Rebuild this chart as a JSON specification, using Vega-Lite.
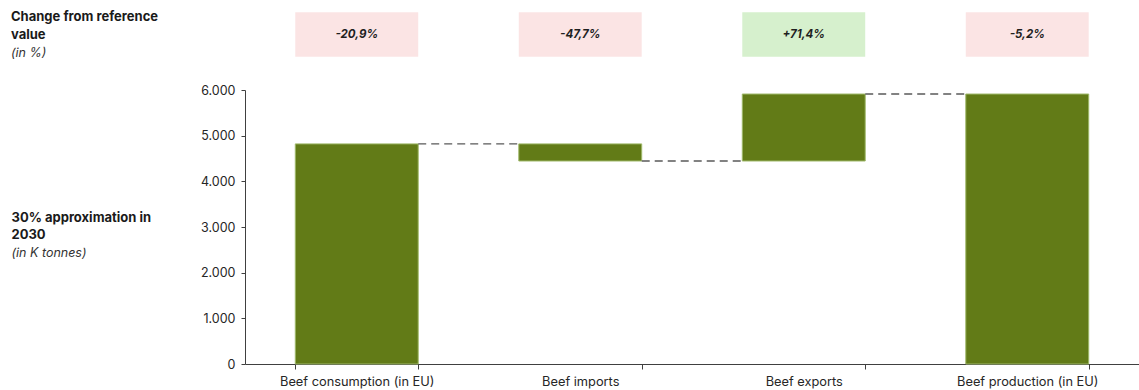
{
  "$schema": "https://vega.github.io/schema/vega-lite/v6.json",
  "autosize": {"type": "none"},
  "width": 894,
  "height": 274,
  "padding": {"left": 245, "top": 90, "right": 0, "bottom": 26},
  "background": "white",
  "config": {
    "font": "Inter",
    "view": {"stroke": null},
    "axis": {"grid": false, "labelColor": "#262626", "domainColor": "#404040", "tickColor": "#404040", "labelFontSize": 12, "labelFont": "Inter"}
  },
  "title": {
    "text": ["Change from reference", "value"],
    "subtitle": "(in %)",
    "anchor": "start",
    "frame": "group",
    "dx": -234,
    "dy": 51,
    "fontSize": 13,
    "fontWeight": "bold",
    "color": "#1a1a1a",
    "lineHeight": 18,
    "subtitleFontSize": 12.5,
    "subtitleFontStyle": "italic",
    "subtitleColor": "#333333",
    "subtitlePadding": 5
  },
  "datasets": {
    "steps": [
      {"item": "Beef consumption (in EU)", "start": 0, "end": 4820},
      {"item": "Beef imports", "start": 4445, "end": 4820},
      {"item": "Beef exports", "start": 4445, "end": 5912},
      {"item": "Beef production (in EU)", "start": 0, "end": 5912}
    ],
    "links": [
      {"from": "Beef consumption (in EU)", "to": "Beef imports", "level": 4820},
      {"from": "Beef imports", "to": "Beef exports", "level": 4445},
      {"from": "Beef exports", "to": "Beef production (in EU)", "level": 5912}
    ],
    "changes": [
      {"item": "Beef consumption (in EU)", "change": "-20,9%", "direction": "down"},
      {"item": "Beef imports", "change": "-47,7%", "direction": "down"},
      {"item": "Beef exports", "change": "+71,4%", "direction": "up"},
      {"item": "Beef production (in EU)", "change": "-5,2%", "direction": "down"}
    ]
  },
  "layer": [
    {
      "data": {"name": "steps"},
      "mark": {"type": "bar", "color": "#627b17", "stroke": "#9fb96a", "strokeWidth": 1},
      "encoding": {
        "x": {
          "field": "item", "type": "nominal", "sort": null,
          "scale": {"paddingInner": 0.45, "paddingOuter": 0.225},
          "axis": {
            "title": "(in K tonnes)",
            "titleFontStyle": "italic", "titleFontWeight": "normal", "titleFontSize": 12.5, "titleColor": "#333333",
            "titleAngle": 0, "titleAlign": "left", "titleBaseline": "middle",
            "titleX": -234, "titleY": -112,
            "labelAngle": 0, "labelPadding": 6, "labelFontSize": 12.8, "tickBand": "extent", "tickSize": 5, "labelColor": "#262626"
          }
        },
        "y": {
          "field": "start", "type": "quantitative",
          "scale": {"domain": [0, 6000], "nice": false},
          "axis": {
            "values": [0, 500, 1000, 1500, 2000, 2500, 3000, 3500, 4000, 4500, 5000, 5500, 6000],
            "labelExpr": "datum.value % 1000 == 0 ? replace(format(datum.value, ','), ',', '.') : ''",
            "tickSize": 4, "labelPadding": 6, "labelFontSize": 12.5,
            "title": ["30% approximation in", "2030"],
            "titleFontWeight": "bold", "titleFontSize": 13, "titleColor": "#1a1a1a",
            "titleAngle": 0, "titleAlign": "left", "titleBaseline": "top", "titleLineHeight": 17,
            "titleX": -234, "titleY": 121
          }
        },
        "y2": {"field": "end"}
      }
    },
    {
      "data": {"name": "links"},
      "mark": {"type": "rule", "color": "#595959", "strokeWidth": 1.3, "strokeDash": [8, 5]},
      "encoding": {
        "x": {"field": "from", "type": "nominal", "sort": null, "bandPosition": 1},
        "x2": {"field": "to", "bandPosition": 0},
        "y": {"field": "level", "type": "quantitative"}
      }
    },
    {
      "data": {"name": "changes"},
      "mark": {"type": "rect"},
      "encoding": {
        "x": {"field": "item", "type": "nominal", "sort": null},
        "y": {"datum": 7700},
        "y2": {"datum": 6730},
        "color": {
          "field": "direction", "type": "nominal", "legend": null,
          "scale": {"domain": ["down", "up"], "range": ["#fbe4e4", "#d6f0cd"]}
        }
      }
    },
    {
      "data": {"name": "changes"},
      "mark": {"type": "text", "fontWeight": "bold", "fontStyle": "italic", "fontSize": 11.5, "color": "#1f1f1f"},
      "encoding": {
        "x": {"field": "item", "type": "nominal", "sort": null, "bandPosition": 0.5},
        "y": {"datum": 7215},
        "text": {"field": "change"}
      }
    }
  ]
}
